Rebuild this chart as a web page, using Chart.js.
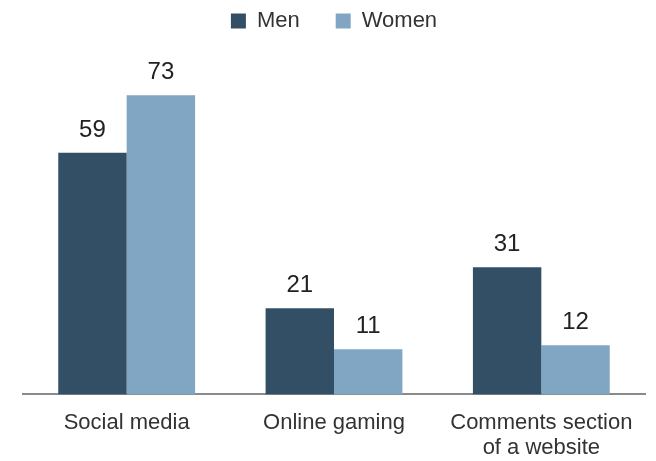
<!DOCTYPE html>
<html>
<head>
<meta charset="utf-8">
<script src="https://cdn.jsdelivr.net/npm/chart.js@4"></script>
<style>
  html, body { margin: 0; padding: 0; background: #fff; }
  #wrap { width: 656px; height: 461px; }
</style>
</head>
<body>
<div id="wrap"><canvas id="chart" width="656" height="461"></canvas></div>
<script>
var categories = ["Social media", "Online gaming", ["Comments section", "of a website"]];
var menValues = [59, 21, 31];
var womenValues = [73, 11, 12];
var seriesNames = ["Men", "Women"];

var FONT = "'Liberation Sans', Arial, sans-serif";

// draws the number above each bar
var valueLabels = {
  id: "valueLabels",
  afterDatasetsDraw: function (chart) {
    var ctx = chart.ctx;
    ctx.save();
    ctx.font = "24px " + FONT;
    ctx.fillStyle = "#222";
    ctx.textAlign = "center";
    ctx.textBaseline = "alphabetic";
    chart.data.datasets.forEach(function (ds, i) {
      chart.getDatasetMeta(i).data.forEach(function (bar, j) {
        ctx.fillText(ds.data[j], bar.x, bar.y - 16);
      });
    });
    ctx.restore();
  },
};

new Chart(document.getElementById("chart"), {
  type: "bar",
  data: {
    labels: categories,
    datasets: [
      {
        label: seriesNames[0],
        data: menValues,
        backgroundColor: "#334f65",
      },
      {
        label: seriesNames[1],
        data: womenValues,
        backgroundColor: "#80a6c3",
      },
    ],
  },
  options: {
    responsive: false,
    animation: false,
    layout: {
      padding: { left: 23, right: 11, top: -26, bottom: -16 },
    },
    datasets: {
      bar: {
        categoryPercentage: 0.66,
        barPercentage: 1.0,
      },
    },
    plugins: {
      legend: {
        position: "top",
        labels: {
          boxWidth: 15,
          boxHeight: 15,
          padding: 36,
          color: "#333",
          font: { family: FONT, size: 22 },
        },
      },
      tooltip: { enabled: false },
    },
    scales: {
      x: {
        grid: { display: false, drawTicks: false },
        border: { display: true, color: "#8a8a8a", width: 2 },
        ticks: {
          color: "#333",
          padding: 16,
          maxRotation: 0,
          font: { family: FONT, size: 22, lineHeight: 1.15 },
        },
      },
      y: {
        display: false,
        min: 0,
        max: 86,
      },
    },
  },
  plugins: [valueLabels],
});
</script>
</body>
</html>
